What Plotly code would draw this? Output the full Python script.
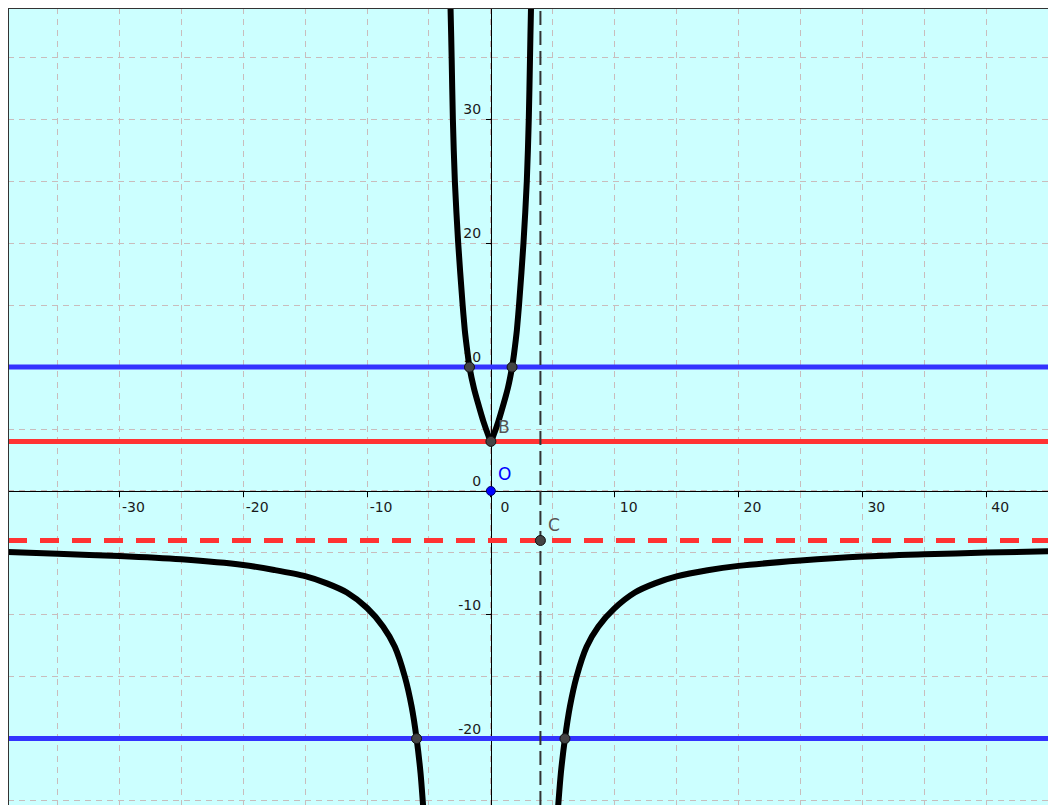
import plotly.graph_objects as go

# ---------------- data ----------------
# upper (U-shaped) branch of the curve (left arm from the top down to B, then right arm up)
upper_x = [-3.29, -3.26, -3.17, -3.07, -2.91, -2.64, -2.28, -2.11, -2.02, -1.87, -1.73, -1.37,
           -1.00, -0.60, -0.22, 0.0,
           0.22, 0.60, 1.00, 1.37, 1.71, 1.86, 2.01, 2.10, 2.27, 2.63, 2.90, 3.06, 3.16, 3.24, 3.27]
upper_y = [39.6, 39.0, 35.0, 30.0, 25.0, 20.0, 15.0, 13.0, 12.2, 11.0, 10.0, 8.3,
           6.95, 5.6, 4.52, 4.0,
           4.52, 5.6, 6.95, 8.3, 10.0, 11.0, 12.2, 13.0, 15.0, 20.0, 25.0, 30.0, 35.0, 39.0, 39.6]

# lower-left branch
low_left_x = [-39.0, -35.0, -30.0, -25.0, -20.0, -17.5, -15.0, -13.25, -11.63, -10.0, -8.7,
              -7.76, -6.95, -6.40, -6.0, -5.68, -5.48, -5.44]
low_left_y = [-4.93, -5.08, -5.25, -5.52, -5.98, -6.38, -6.88, -7.46, -8.2, -9.45, -10.96,
              -12.58, -15.0, -17.42, -20.0, -22.8, -25.36, -25.9]

# lower-right branch
low_right_x = [5.40, 5.44, 5.65, 5.98, 6.38, 6.92, 7.73, 8.67, 9.96, 11.63, 13.25, 15.0,
               17.5, 20.0, 25.0, 30.0, 35.0, 40.0, 45.64]
low_right_y = [-25.9, -25.36, -22.8, -20.0, -17.42, -15.0, -12.58, -10.96, -9.5, -8.2, -7.46, -6.9,
               -6.4, -6.05, -5.62, -5.3, -5.12, -4.98, -4.86]

# straight lines
blue_lines_y = [10, -20]
red_line_y = 4
red_dashed_y = -4
vertical_dashed_x = 4

# marked points
points_x = [-1.73, 1.71, 0, 4, -6.0, 5.98]
points_y = [10, 10, 4, -4, -20, -20]
origin_x = [0]
origin_y = [0]

# point labels
label_texts = ["B", "C", "O"]
label_x = [1.05, 5.09, 1.13]
label_y = [5.17, -2.75, 1.37]
label_colors = ["#555555", "#555555", "#0000ff"]

# ticks
x_tickvals = [-30, -20, -10, 0, 10, 20, 30, 40]
x_ticktext = ["-30", "-20", "-10", "0", "10", "20", "30", "40"]
y_tickvals = [-20, -10, 0, 10, 20, 30]
y_ticktext = ["-20", "-10", "0", "10", "20", "30"]

X_RANGE = [-39.0, 45.64]
Y_RANGE = [-25.36, 39.0]

GRID_COLOR = "#c9bcbc"
GRID_DASH = "6px,5px"

fig = go.Figure()

# straight lines as traces spanning the visible range
for yv in blue_lines_y:
    fig.add_trace(go.Scatter(x=X_RANGE, y=[yv, yv], mode="lines",
                             line=dict(color="#3333ff", width=5),
                             hoverinfo="skip", showlegend=False))
fig.add_trace(go.Scatter(x=X_RANGE, y=[red_line_y, red_line_y], mode="lines",
                         line=dict(color="#ff3333", width=5),
                         hoverinfo="skip", showlegend=False))
fig.add_trace(go.Scatter(x=X_RANGE, y=[red_dashed_y, red_dashed_y], mode="lines",
                         line=dict(color="#ff3333", width=5, dash="19px,13px"),
                         hoverinfo="skip", showlegend=False))
fig.add_trace(go.Scatter(x=[vertical_dashed_x, vertical_dashed_x], y=Y_RANGE, mode="lines",
                         line=dict(color="#333333", width=2, dash="14px,6px"),
                         hoverinfo="skip", showlegend=False))

for xs, ys in [(upper_x, upper_y), (low_left_x, low_left_y), (low_right_x, low_right_y)]:
    fig.add_trace(go.Scatter(x=xs, y=ys, mode="lines",
                             line=dict(color="black", width=6, shape="spline", smoothing=0.8),
                             hoverinfo="skip", showlegend=False))

fig.add_trace(go.Scatter(x=points_x, y=points_y, mode="markers",
                         marker=dict(size=10, color="#444444", line=dict(color="#111111", width=1)),
                         hoverinfo="skip", showlegend=False))
fig.add_trace(go.Scatter(x=origin_x, y=origin_y, mode="markers",
                         marker=dict(size=9, color="#0000ff", line=dict(color="#000066", width=1)),
                         hoverinfo="skip", showlegend=False))

shapes = [
    dict(type="line", xref="paper", yref="paper", x0=0, x1=0, y0=0, y1=1,
         line=dict(color="#333333", width=2), layer="above"),
    dict(type="line", xref="paper", yref="paper", x0=0, x1=1, y0=1, y1=1,
         line=dict(color="#333333", width=2), layer="above"),
]

annotations = []
for t, ax_, ay_, c in zip(label_texts, label_x, label_y, label_colors):
    annotations.append(dict(x=ax_, y=ay_, xref="x", yref="y", text=t, showarrow=False,
                            font=dict(family="DejaVu Sans", size=17, color=c),
                            xanchor="center", yanchor="middle"))

x_pos = (0 - Y_RANGE[0]) / (Y_RANGE[1] - Y_RANGE[0])
y_pos = (0 - X_RANGE[0]) / (X_RANGE[1] - X_RANGE[0])

tickfont = dict(family="DejaVu Sans", size=14, color="#1a1a1a")

fig.update_layout(
    width=1048, height=797,
    margin=dict(l=0, r=0, t=0, b=0),
    paper_bgcolor="white",
    plot_bgcolor="#ccffff",
    showlegend=False,
    shapes=shapes,
    annotations=annotations,
    xaxis=dict(range=X_RANGE, anchor="free", position=x_pos,
               showline=True, linecolor="black", linewidth=1,
               ticks="outside", ticklen=5, tickcolor="black", tickwidth=1,
               tickmode="array", tickvals=x_tickvals, ticktext=x_ticktext,
               tickfont=tickfont, ticklabelshift=14, ticklabelstandoff=-2,
               showgrid=True, gridcolor=GRID_COLOR, griddash=GRID_DASH, gridwidth=1,
               minor=dict(dtick=5, tick0=0, showgrid=True, gridcolor=GRID_COLOR,
                          griddash=GRID_DASH, gridwidth=1, ticks=""),
               zeroline=False, layer="below traces", fixedrange=True),
    yaxis=dict(range=Y_RANGE, anchor="free", position=y_pos,
               showline=True, linecolor="black", linewidth=1,
               ticks="outside", ticklen=5, tickcolor="black", tickwidth=1,
               tickmode="array", tickvals=y_tickvals, ticktext=y_ticktext,
               tickfont=tickfont, ticklabelshift=-10, ticklabelstandoff=2,
               showgrid=True, gridcolor=GRID_COLOR, griddash=GRID_DASH, gridwidth=1,
               minor=dict(dtick=5, tick0=0, showgrid=True, gridcolor=GRID_COLOR,
                          griddash=GRID_DASH, gridwidth=1, ticks=""),
               zeroline=False, layer="below traces", fixedrange=True),
)

fig.write_html("out.html", config={"displayModeBar": False})
